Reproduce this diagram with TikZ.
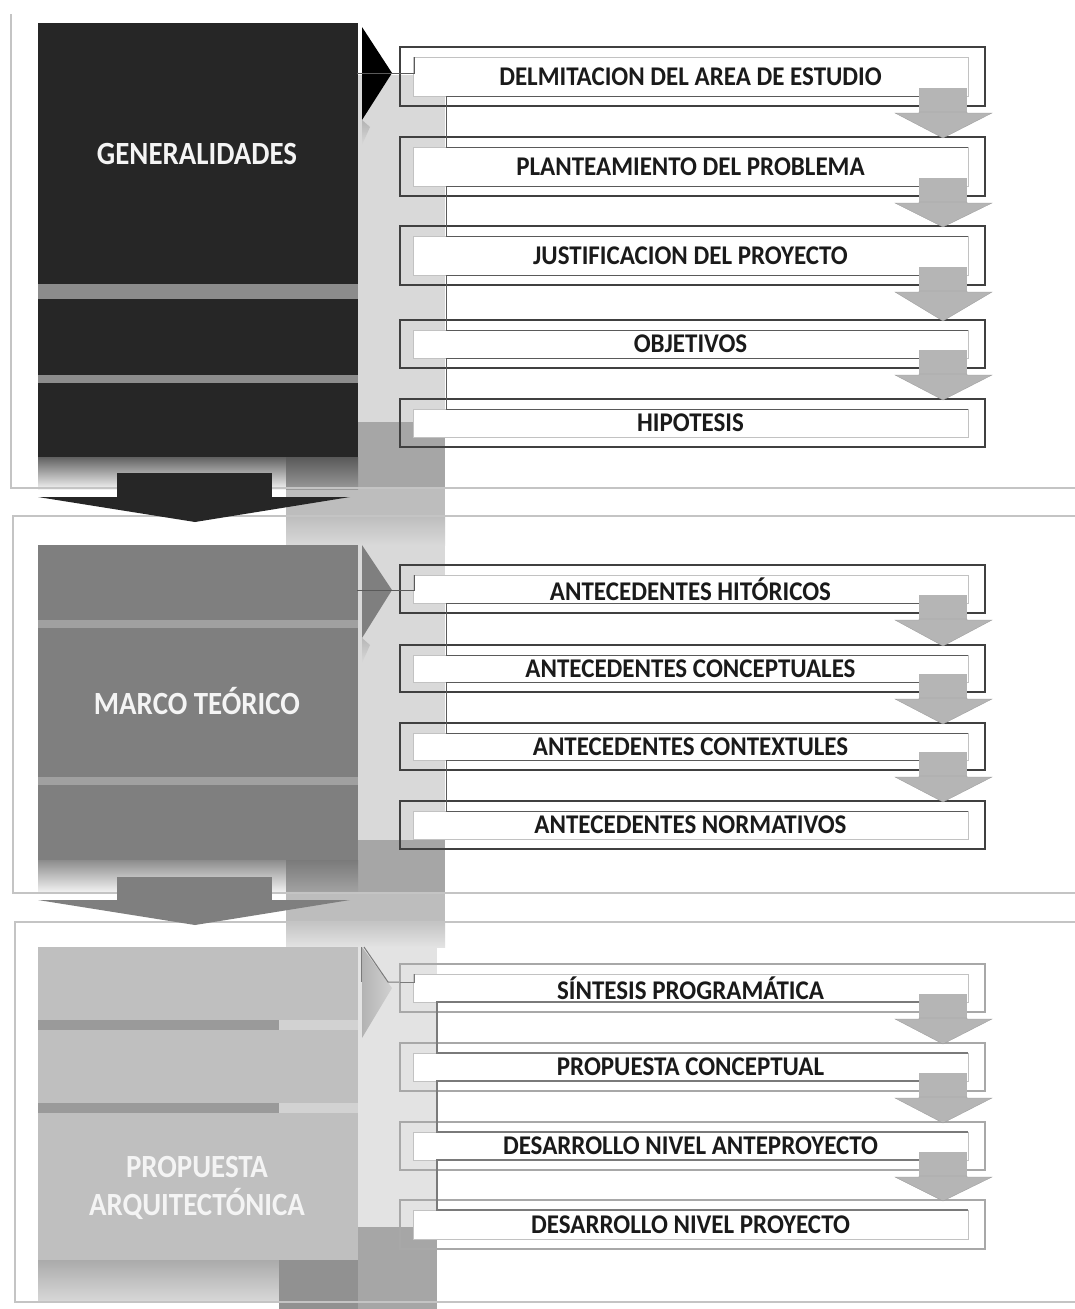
\documentclass[tikz,border=0pt]{standalone}
\usepackage{fontspec}
\usepackage{graphicx}
\setmainfont{Carlito}
\definecolor{blkA}{HTML}{262626}
\definecolor{blkB}{HTML}{7F7F7F}
\definecolor{blkC}{HTML}{BFBFBF}
\definecolor{bandL}{HTML}{D9D9D9}
\definecolor{bandD}{HTML}{A6A6A6}
\definecolor{bandM}{HTML}{BDBDBD}
\definecolor{bandE}{HTML}{E3E3E3}
\definecolor{frameC}{HTML}{C4C4C4}
\definecolor{chevC}{HTML}{B5B5B5}
\definecolor{conA}{HTML}{5A5A5A}
\definecolor{conC}{HTML}{7A7A7A}
\definecolor{outA}{HTML}{404040}
\definecolor{outC}{HTML}{A8A8A8}
\definecolor{innC}{HTML}{C2C2C2}
\definecolor{txtC}{HTML}{1A1A1A}
\definecolor{txtW}{HTML}{F4F4F4}
\definecolor{stripA}{HTML}{8C8C8C}
\definecolor{stripB}{HTML}{A0A0A0}
\definecolor{stripC}{HTML}{9A9A9A}
\definecolor{stripCr}{HTML}{D2D2D2}
\tikzset{
  frameline/.style={draw=frameC, line width=1.2pt},
  outerbox/.style={draw=#1, line width=2.2pt},
  innerbox/.style={draw=innC, line width=0.8pt, fill=white},
  rowlabel/.style={inner sep=0pt, text=txtC, font=\bfseries\fontsize{25}{25}\selectfont},
  blocklabel/.style={inner sep=0pt, text=txtW, align=center, font=\bfseries\fontsize{28.9}{36}\selectfont},
  connline/.style={draw=#1, line width=0.9pt},
  chevron/.style={fill=chevC, draw=chevC!85!black, line width=0.3pt},
}
% row: name, outer top, outer bottom, text, outer colour
\newcommand\mkrow[5]{%
  \draw[outerbox=#5] (400,#2) rectangle (985,#3);
  \fill[innerbox] (413,{#2+10}) rectangle (968,{#3-10});
  \node[rowlabel] (#1) at (690.5,{(#2+#3)/2}) {\scalebox{1}[1.08]{#4}};
}
% connector: x, inner bottom, next inner top, colour, width
\newcommand\mkconn[5]{%
  \draw[draw=#4, line width=#5] (919,#2) -- (#1,#2) -- (#1,#3) -- (968,#3);
}
% chevron: outer bottom, next outer top
\newcommand\mkchev[2]{%
  \fill[chevC] (919,{#1-18}) rectangle (967,{#1+7});
  \fill[chevron] (895,{#1+7}) -- (919,{#1+7}) -- (919,{#1+6}) -- (967,{#1+6}) -- (967,{#1+7}) -- (992,{#1+7}) -- (943,{#2+1}) -- cycle;
}
\begin{document}
\begin{tikzpicture}[x=1pt,y=-1pt]
\useasboundingbox (0,0) rectangle (1075,1309);
\fill[white] (0,0) rectangle (1075,1309);

% ---- background column behind the connectors ----
\fill[bandL] (358,75) rectangle (445,422);
\fill[bandD] (358,422) rectangle (445,488);
\fill[bandM] (286,488) rectangle (445,516);
\shade[top color=bandM, bottom color=bandL] (286,516) rectangle (445,545);
\fill[bandL] (358,545) rectangle (445,840);
\fill[bandD] (358,840) rectangle (445,893);
\fill[bandM] (286,893) rectangle (445,922);
\shade[top color=bandM!90!white, bottom color=bandE] (286,922) rectangle (445,947);
\fill[bandE] (358,947) rectangle (437,1227);
\fill[bandD] (358,1227) rectangle (437,1309);

% ---- reflections under the blocks ----
\shade[top color=black!62, bottom color=black!5] (38,457) rectangle (286,489);
\shade[top color=black!65, bottom color=black!40] (286,457) rectangle (358,489);
\shade[top color=black!45, bottom color=black!4] (38,860) rectangle (286,893);
\shade[top color=black!52, bottom color=black!36] (286,860) rectangle (358,893);
\shade[top color=black!33, bottom color=black!15] (38,1260) rectangle (279,1302);
\fill[black!43] (279,1260) rectangle (358,1309);

% ---- pointer reflections ----
\shade[top color=black!30, bottom color=bandL] (362,120) -- (370,127) -- (362,145) -- cycle;
\shade[top color=black!28, bottom color=bandL] (362,638) -- (370,645) -- (362,663) -- cycle;

% ---- section frames ----
\draw[frameline] (1075,488) -- (11,488) -- (11,14);
\draw[frameline] (1075,516) -- (13,516) -- (13,893) -- (1075,893);
\draw[frameline] (1075,922) -- (15,922) -- (15,1302) -- (1075,1302);

% ---- block 1 ----
\fill[blkA] (38,23) rectangle (358,457);
\fill[stripA] (38,284) rectangle (358,299);
\fill[stripA] (38,375) rectangle (358,383);
\node[blocklabel] (gen) at (197,153.5) {\scalebox{1}[1.12]{GENERALIDADES}};
\fill[black] (362,27) -- (392,73) -- (362,120) -- cycle;
\fill[blkA] (117,473) rectangle (272,497);
\fill[blkA] (38,497) -- (350,497) -- (195,522) -- cycle;

% ---- block 2 ----
\fill[blkB] (38,545) rectangle (358,860);
\fill[stripB] (38,620) rectangle (358,628);
\fill[stripB] (38,777) rectangle (358,785);
\node[blocklabel] (marco) at (197,701) {\scalebox{1}[1.12]{MARCO TEÓRICO}};
\fill[blkB] (362,545) -- (392,590) -- (362,638) -- cycle;
\fill[blkB] (117,877) rectangle (272,900);
\fill[blkB] (38,900) -- (350,900) -- (195,925) -- cycle;

% ---- block 3 ----
\fill[blkC] (38,947) rectangle (358,1260);
\fill[stripC] (38,1020) rectangle (279,1030);
\fill[stripCr] (279,1020) rectangle (358,1030);
\fill[stripC] (38,1103) rectangle (279,1113);
\fill[stripCr] (279,1103) rectangle (358,1113);
\node[blocklabel] (prop) at (197,1188) {\scalebox{1}[1.12]{PROPUESTA}\\[2pt]\scalebox{1}[1.12]{ARQUITECTÓNICA}};
\shade[left color=black!30, right color=black!18] (362,947) -- (392,988) -- (362,1038) -- cycle;
\draw[conC, line width=1pt] (361,947) -- (361,982);
\draw[conC, line width=1pt] (364,947) -- (388,982) -- (400,982);

% ---- section 1 rows ----
\mkrow{r1}{47}{106}{DELMITACION DEL AREA DE ESTUDIO}{outA}
\mkrow{r2}{137}{196}{PLANTEAMIENTO DEL PROBLEMA}{outA}
\mkrow{r3}{226}{285}{JUSTIFICACION DEL PROYECTO}{outA}
\mkrow{r4}{320}{368}{OBJETIVOS}{outA}
\mkrow{r5}{399}{447}{HIPOTESIS}{outA}
\draw[connline=conA] (357,73) -- (414,73) -- (414,57);
\mkconn{446}{96}{147}{conA}{0.9pt}
\mkconn{446}{186}{236}{conA}{0.9pt}
\mkconn{446}{275}{330}{conA}{0.9pt}
\mkconn{446}{358}{409}{conA}{0.9pt}
\mkchev{106}{137}
\mkchev{196}{226}
\mkchev{285}{320}
\mkchev{368}{399}

% ---- section 2 rows ----
\mkrow{r6}{565}{613}{ANTECEDENTES HITÓRICOS}{outA}
\mkrow{r7}{645}{692}{ANTECEDENTES CONCEPTUALES}{outA}
\mkrow{r8}{723}{770}{ANTECEDENTES CONTEXTULES}{outA}
\mkrow{r9}{801}{849}{ANTECEDENTES NORMATIVOS}{outA}
\draw[connline=conA] (357,590) -- (414,590) -- (414,575);
\mkconn{446}{603}{655}{conA}{0.9pt}
\mkconn{446}{682}{733}{conA}{0.9pt}
\mkconn{446}{760}{811}{conA}{0.9pt}
\mkchev{613}{645}
\mkchev{692}{723}
\mkchev{770}{801}

% ---- section 3 rows ----
\mkrow{r10}{964}{1012}{SÍNTESIS PROGRAMÁTICA}{outC}
\mkrow{r11}{1043}{1091}{PROPUESTA CONCEPTUAL}{outC}
\mkrow{r12}{1122}{1170}{DESARROLLO NIVEL ANTEPROYECTO}{outC}
\mkrow{r13}{1200}{1249}{DESARROLLO NIVEL PROYECTO}{outC}
\draw[connline=conC] (400,982) -- (414,982) -- (414,974);
\mkconn{437}{1002}{1053}{conC}{1.5pt}
\mkconn{437}{1081}{1132}{conC}{1.5pt}
\mkconn{437}{1160}{1210}{conC}{1.5pt}
\mkchev{1012}{1043}
\mkchev{1091}{1122}
\mkchev{1170}{1200}
\end{tikzpicture}
\end{document}
